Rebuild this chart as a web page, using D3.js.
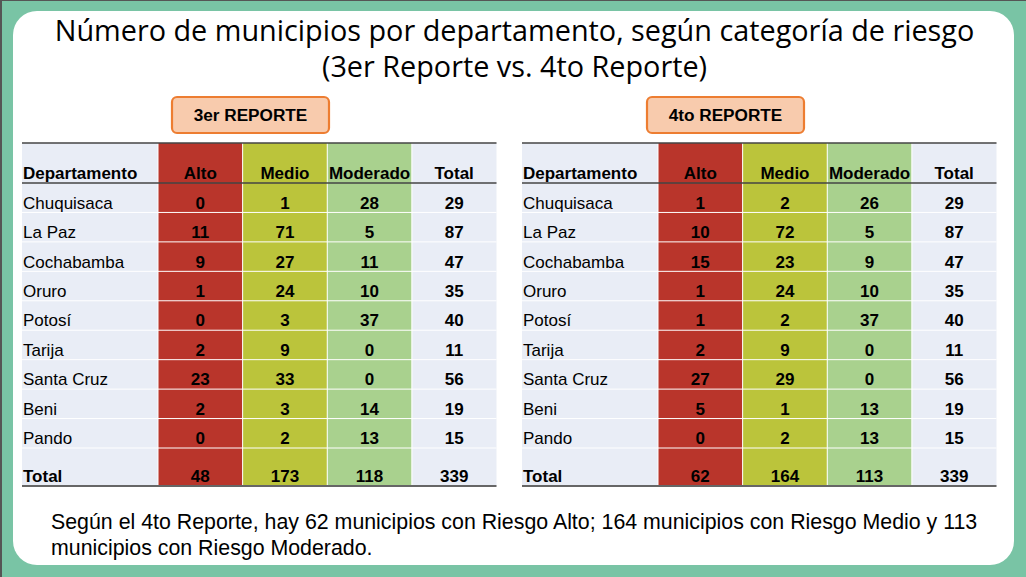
<!DOCTYPE html>
<html>
<head>
<meta charset="utf-8">
<script src="https://cdn.jsdelivr.net/npm/d3@7"></script>
<style>
  html, body { margin: 0; padding: 0; background: #fff; }
  svg { display: block; }
  text { font-family: "Liberation Sans", Arial, sans-serif; fill: #000; }
</style>
</head>
<body>
<div id="chart"></div>
<script>
const departments = ["Chuquisaca", "La Paz", "Cochabamba", "Oruro", "Potosí", "Tarija", "Santa Cruz", "Beni", "Pando"];
const columns = ["Alto", "Medio", "Moderado", "Total"];

const alto3 = [0, 11, 9, 1, 0, 2, 23, 2, 0];
const medio3 = [1, 71, 27, 24, 3, 9, 33, 3, 2];
const moderado3 = [28, 5, 11, 10, 37, 0, 0, 14, 13];
const total3 = [29, 87, 47, 35, 40, 11, 56, 19, 15];
const sum3 = [48, 173, 118, 339];

const alto4 = [1, 10, 15, 1, 1, 2, 27, 5, 0];
const medio4 = [2, 72, 23, 24, 2, 9, 29, 1, 2];
const moderado4 = [26, 5, 9, 10, 37, 0, 0, 13, 13];
const total4 = [29, 87, 47, 35, 40, 11, 56, 19, 15];
const sum4 = [62, 164, 113, 339];

const titleLines = ["Número de municipios por departamento, según categoría de riesgo", "(3er Reporte vs. 4to Reporte)"];
const noteLines = ["Según el 4to Reporte, hay 62 municipios con Riesgo Alto; 164 municipios con Riesgo Medio y 113", "municipios con Riesgo Moderado."];

const colColors = { Alto: "#b9352b", Medio: "#bbc43b", Moderado: "#a9d18e", Total: "#e9edf6" };

const width = 1026, height = 577;
const svg = d3.select("#chart").append("svg").attr("width", width).attr("height", height);

// slide background
svg.append("rect").attr("width", width).attr("height", height).attr("fill", "#79c4a5");
svg.append("rect").attr("width", width).attr("height", 1).attr("fill", "#555");
svg.append("rect").attr("width", 2).attr("height", height).attr("fill", "#555");
svg.append("rect").attr("x", 13).attr("y", 11).attr("width", 1001).attr("height", 554).attr("rx", 24).attr("fill", "#fff");

svg.selectAll("text.title").data(titleLines).enter().append("text")
    .attr("class", "title")
    .attr("x", 514.5)
    .attr("y", (d, i) => 41 + i * 36)
    .attr("text-anchor", "middle")
    .style("font-family", "'Open Sans', sans-serif")
    .style("font-size", "28.8px")
    .text(d => d);

svg.selectAll("text.note").data(noteLines).enter().append("text")
    .attr("class", "note")
    .attr("x", 51)
    .attr("y", (d, i) => 529 + i * 26)
    .style("font-size", "21.35px")
    .text(d => d);

function drawTable(left, label, labelX, series, sums) {
    const g = svg.append("g");
    const x = d3.scaleBand().domain(columns).range([left + 136, left + 474.5]);
    const y = d3.scaleBand().domain(departments).range([183, 448]);
    const right = left + 474.5;

    // badge
    g.append("rect").attr("x", labelX).attr("y", 97).attr("width", 157).attr("height", 36).attr("rx", 5)
        .attr("fill", "#f8cbad").attr("stroke", "#ed7d31").attr("stroke-width", 2.2);
    g.append("text").attr("x", labelX + 78.5).attr("y", 120.5).attr("text-anchor", "middle")
        .style("font-size", "17.2px").style("font-weight", "bold").text(label);

    // column backgrounds
    g.append("rect").attr("x", left).attr("y", 143).attr("width", 136).attr("height", 343).attr("fill", colColors.Total);
    g.selectAll("rect.col").data(columns).enter().append("rect")
        .attr("class", "col")
        .attr("x", d => x(d))
        .attr("y", 143)
        .attr("width", x.bandwidth())
        .attr("height", 343)
        .attr("fill", d => colColors[d]);

    // white cell separators
    g.selectAll("line.vsep").data(columns).enter().append("line")
        .attr("class", "vsep")
        .attr("x1", d => x(d)).attr("x2", d => x(d))
        .attr("y1", 143).attr("y2", 486)
        .attr("stroke", "#fff").attr("stroke-width", 1);
    g.selectAll("line.hsep").data(departments).enter().append("line")
        .attr("class", "hsep")
        .attr("x1", left).attr("x2", right)
        .attr("y1", d => y(d) + y.bandwidth()).attr("y2", d => y(d) + y.bandwidth())
        .attr("stroke", "#fff").attr("stroke-width", 1);

    // rules
    [[143, "#444", 1.5], [183, "#444", 1.5], [486, "#666", 2]].forEach(r => {
        g.append("line").attr("x1", left).attr("x2", right).attr("y1", r[0]).attr("y2", r[0])
            .attr("stroke", r[1]).attr("stroke-width", r[2]);
    });

    // header
    g.append("text").attr("x", left + 1).attr("y", 179).style("font-size", "17px").style("font-weight", "bold").text("Departamento");
    g.selectAll("text.head").data(columns).enter().append("text")
        .attr("class", "head")
        .attr("x", d => x(d) + x.bandwidth() / 2)
        .attr("y", 179)
        .attr("text-anchor", "middle")
        .style("font-size", "17px").style("font-weight", "bold")
        .text(d => d);

    // rows
    departments.forEach((dep, i) => {
        g.append("text").attr("x", left + 1).attr("y", y(dep) + 25.7).style("font-size", "17px").text(dep);
        columns.forEach((c, j) => {
            g.append("text")
                .attr("x", x(c) + x.bandwidth() / 2)
                .attr("y", y(dep) + 25.7)
                .attr("text-anchor", "middle")
                .style("font-size", "17px").style("font-weight", "bold")
                .text(series[j][i]);
        });
    });

    // total row
    g.append("text").attr("x", left + 1).attr("y", 482).style("font-size", "17px").style("font-weight", "bold").text("Total");
    columns.forEach((c, j) => {
        g.append("text")
            .attr("x", x(c) + x.bandwidth() / 2)
            .attr("y", 482)
            .attr("text-anchor", "middle")
            .style("font-size", "17px").style("font-weight", "bold")
            .text(sums[j]);
    });
}

drawTable(22, "3er REPORTE", 172, [alto3, medio3, moderado3, total3], sum3);
drawTable(522, "4to REPORTE", 647, [alto4, medio4, moderado4, total4], sum4);
</script>
</body>
</html>
